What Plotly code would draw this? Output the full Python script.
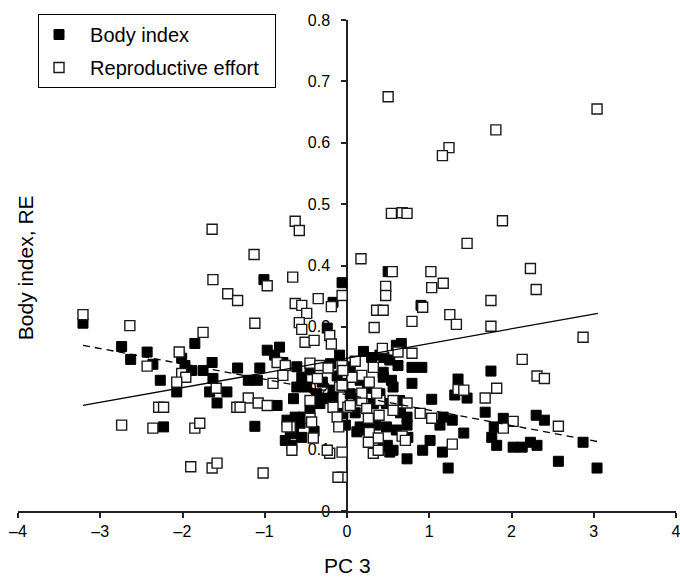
import plotly.graph_objects as go

# Body index (filled squares)
bi_x = [-3.21, -1.85, -2.74, -2.63, -2.43, -2.36, -2.01, -1.97, -1.89, -1.64,
        -1.75, -1.63, -1.33, -2.27, -2.07, -1.67, -1.46, -1.58, -2.23, -1.12,
        -1.01, -0.06, -0.17, -0.24, 0.50, 0.90, 0.66, -0.97, -0.82, -0.88,
        -0.78, -1.20, -1.06, -1.09, -0.85, -0.75, -0.69, -0.63, -0.57, -0.67,
        -0.61, -0.55, -0.61, -0.49, -0.65, -0.37, -0.25, -0.17, -0.33, -0.45,
        -0.53, -0.05, -0.02, 0.12, 0.04, 0.04, 0.16, 0.44, 0.56, 0.64,
        0.48, 0.16, 0.48, 0.60, 0.44, 0.56, -0.17, -0.09, -0.05, 0.52,
        0.62, 0.44, 0.54, 0.14, 0.32, 0.40, 0.79, 0.91, 0.79, 1.35,
        1.31, 1.46, 1.03, 1.75, 1.17, 1.28, 1.13, 0.73, 0.74, 1.42,
        1.68, 1.90, 2.30, 2.40, 1.79, 1.76, 1.82, 2.02, 2.13, 2.23,
        2.31, 2.87, 2.57, 3.04, 1.23, 0.73, 0.92, 1.01, 1.16, 0.49,
        0.52, 0.40, 0.16, 0.28, 0.73, -0.65, -0.73, -0.45, -0.30, -0.20,
        0.25, 0.30, 0.10, -0.40, 0.35, 0.65, 0.20, 0.60, -0.55, 0.45,
        -0.12]
bi_y = [0.306, 0.273, 0.268, 0.247, 0.259, 0.239, 0.249, 0.237, 0.229, 0.242,
        0.229, 0.216, 0.233, 0.213, 0.194, 0.194, 0.194, 0.176, 0.137, 0.138,
        0.377, 0.372, 0.340, 0.298, 0.390, 0.335, 0.273, 0.262, 0.267, 0.254,
        0.242, 0.213, 0.233, 0.213, 0.172, 0.115, 0.132, 0.153, 0.143, 0.107,
        0.235, 0.218, 0.202, 0.202, 0.183, 0.191, 0.183, 0.186, 0.175, 0.164,
        0.153, 0.159, 0.140, 0.129, 0.191, 0.235, 0.213, 0.218, 0.202, 0.180,
        0.175, 0.137, 0.137, 0.132, 0.105, 0.099, 0.197, 0.254, 0.208, 0.246,
        0.237, 0.226, 0.213, 0.183, 0.175, 0.191, 0.234, 0.234, 0.208, 0.215,
        0.189, 0.184, 0.182, 0.228, 0.153, 0.148, 0.140, 0.140, 0.120, 0.127,
        0.161, 0.151, 0.156, 0.148, 0.137, 0.120, 0.107, 0.104, 0.104, 0.112,
        0.107, 0.112, 0.081, 0.070, 0.070, 0.085, 0.099, 0.115, 0.096, 0.107,
        0.096, 0.254, 0.132, 0.145, 0.153, 0.126, 0.148, 0.230, 0.210, 0.240,
        0.200, 0.250, 0.160, 0.130, 0.140, 0.160, 0.260, 0.270, 0.120, 0.250,
        0.220]

# Reproductive effort (open squares)
re_x = [0.50, 3.04, 1.81, 1.24, 1.16, 0.54, 0.67, 0.73, 1.89, 1.46,
        2.23, 2.30, 1.75, 1.17, 1.25, 1.33, 1.75, 0.17, 0.55, 1.02,
        0.47, 0.47, 1.03, -1.64, -0.63, -0.58, -1.13, -1.63, -0.97, -0.66,
        -1.45, -1.33, -0.63, -0.55, -0.35, -0.06, -0.19, 0.36, 0.44, 0.92,
        -0.49, -1.12, -0.58, -0.55, -0.21, -0.51, -0.40, -0.19, 0.79, 0.33,
        0.43, 0.62, 0.79, 0.10, 0.32, 0.18, 0.27, 1.35, 1.42, 0.01,
        0.18, 0.24, 0.40, 0.56, 0.73, 0.39, 0.56, 0.89, 1.03, 0.27,
        0.38, 0.67, 0.71, 1.28, 0.32, 0.38, 2.87, 2.13, 2.31, 2.40,
        1.82, 1.68, 2.02, 1.90, 2.57, -0.06, -0.06, -3.21, -2.64, -1.75,
        -2.43, -2.04, -2.01, -1.96, -2.07, -1.59, -1.34, -2.29, -2.23, -2.74,
        -2.36, -1.85, -1.79, -1.90, -1.64, -1.58, -1.02, -0.85, -0.75, -0.78,
        -0.90, -1.20, -1.30, -1.08, -0.97, -0.67, -0.69, -0.41, -0.21, -0.11,
        -0.45, -0.33, -0.23, -0.06, -0.36, -0.45, -0.17, -0.12, -0.09, -0.45,
        -0.73, -0.43, 0.06, -0.06, 0.04, 0.26, 0.18, 0.36, 0.26, -0.24,
        -0.10, -0.05]
re_y = [0.675, 0.655, 0.621, 0.592, 0.579, 0.485, 0.486, 0.485, 0.473, 0.436,
        0.395, 0.361, 0.343, 0.371, 0.320, 0.304, 0.301, 0.411, 0.390, 0.390,
        0.366, 0.351, 0.364, 0.459, 0.472, 0.457, 0.418, 0.377, 0.367, 0.381,
        0.354, 0.343, 0.338, 0.335, 0.346, 0.351, 0.333, 0.327, 0.327, 0.332,
        0.322, 0.306, 0.307, 0.296, 0.286, 0.275, 0.278, 0.272, 0.309, 0.299,
        0.265, 0.259, 0.257, 0.244, 0.234, 0.221, 0.210, 0.198, 0.197, 0.169,
        0.180, 0.167, 0.180, 0.180, 0.176, 0.156, 0.164, 0.159, 0.151, 0.128,
        0.119, 0.122, 0.115, 0.109, 0.094, 0.099, 0.283, 0.247, 0.220, 0.216,
        0.200, 0.184, 0.146, 0.135, 0.138, 0.096, 0.055, 0.320, 0.302, 0.291,
        0.236, 0.259, 0.224, 0.218, 0.210, 0.200, 0.169, 0.169, 0.169, 0.140,
        0.135, 0.135, 0.143, 0.072, 0.070, 0.078, 0.062, 0.242, 0.237, 0.221,
        0.208, 0.184, 0.169, 0.176, 0.172, 0.099, 0.137, 0.119, 0.094, 0.055,
        0.241, 0.237, 0.233, 0.237, 0.216, 0.180, 0.169, 0.153, 0.202, 0.151,
        0.137, 0.145, 0.218, 0.205, 0.172, 0.151, 0.192, 0.192, 0.112, 0.099,
        0.137, 0.229]

# Regression lines (end points)
trend_x = [-3.21, 3.05]
re_trend_y = [0.172, 0.322]
bi_trend_y = [0.270, 0.113]

x_ticks = [-4, -3, -2, -1, 0, 1, 2, 3, 4]
x_tick_labels = ["\u20134", "\u20133", "\u20132", "\u20131", "0", "1", "2", "3", "4"]
y_ticks = [0, 0.1, 0.2, 0.3, 0.4, 0.5, 0.6, 0.7, 0.8]
y_tick_labels = ["0", "0.1", "0.2", "0.3", "0.4", "0.5", "0.6", "0.7", "0.8"]

FONT = "Liberation Sans, Arial, sans-serif"
NB = "\u00a0"

fig = go.Figure()
fig.add_trace(go.Scatter(
    x=bi_x, y=bi_y, mode="markers", name=NB * 2 + "Body index", legendgroup="a",
    marker=dict(symbol="square", size=10, color="#000000",
                line=dict(color="#000000", width=1))))
fig.add_trace(go.Scatter(
    x=re_x, y=re_y, mode="markers", name=NB * 2 + "Reproductive effort" + NB * 2,
    legendgroup="b",
    marker=dict(symbol="square", size=10, color="#ffffff",
                line=dict(color="#1a1a1a", width=1.4))))
fig.add_trace(go.Scatter(
    x=trend_x, y=bi_trend_y, mode="lines", showlegend=False,
    line=dict(color="#000000", width=1.3, dash="7px,5px")))
fig.add_trace(go.Scatter(
    x=trend_x, y=re_trend_y, mode="lines", showlegend=False,
    line=dict(color="#000000", width=1.3)))

fig.update_layout(
    width=680, height=583,
    margin=dict(l=18, r=4, t=20, b=72, autoexpand=False),
    paper_bgcolor="white", plot_bgcolor="white",
    font=dict(family=FONT, size=16, color="#000000"),
    showlegend=True,
    legend=dict(x=0.0304, y=1.0122, xanchor="left", yanchor="top",
                bordercolor="#000000", borderwidth=1, bgcolor="white",
                font=dict(family=FONT, size=20, color="#000000"),
                traceorder="grouped", tracegroupgap=4, itemwidth=30),
    xaxis=dict(range=[-4, 4], tickmode="array", tickvals=x_ticks,
               ticktext=x_tick_labels, showgrid=False, zeroline=False,
               showline=True, linecolor="#222222", linewidth=1.5,
               ticks="outside", ticklen=5, tickwidth=1.5, tickcolor="#222222",
               ticklabeloverflow="allow",
               tickfont=dict(family=FONT, size=16), automargin=False),
    yaxis=dict(range=[0, 0.8], tickmode="array", tickvals=y_ticks,
               ticktext=y_tick_labels, showgrid=False, zeroline=False,
               showline=True, linecolor="#222222", linewidth=1.5,
               ticks="outside", ticklen=5, tickwidth=1.5, tickcolor="#222222",
               anchor="free", position=0.5, side="left",
               layer="below traces", ticklabelstandoff=8,
               tickfont=dict(family=FONT, size=16), automargin=False),
    annotations=[
        dict(text="PC 3", xref="paper", yref="paper", x=0.5, y=-0.110,
             showarrow=False, xanchor="center", yanchor="middle",
             font=dict(family=FONT, size=21)),
        dict(text="Body index, RE", xref="paper", yref="paper", x=0.0125, y=0.495,
             showarrow=False, textangle=-90, xanchor="center", yanchor="middle",
             font=dict(family=FONT, size=21)),
    ],
)

fig.write_html("out.html",
               config={"displayModeBar": False},
               post_script="document.body.style.margin='0px';")
